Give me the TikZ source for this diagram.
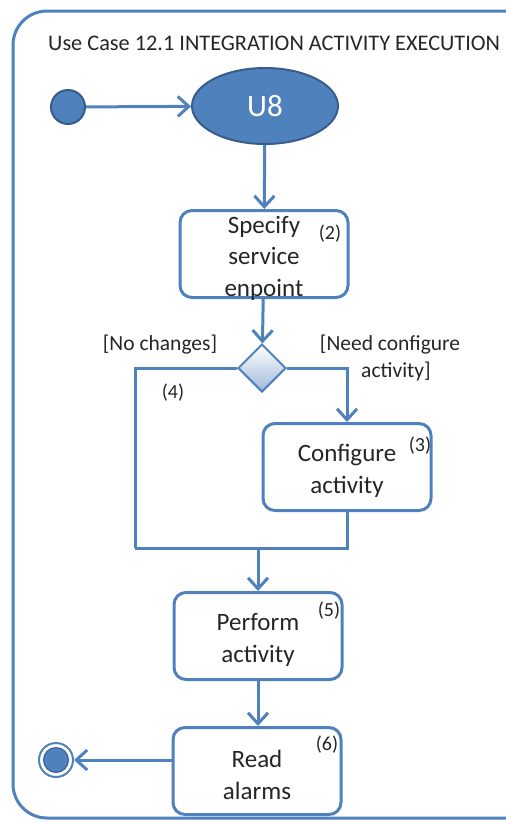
\documentclass[tikz,border=0pt]{standalone}
\usepackage{fontspec}
\setmainfont{Carlito}
\usetikzlibrary{arrows.meta,shapes.geometric,positioning}
\definecolor{lblue}{HTML}{4F81BD}
\definecolor{dblue}{HTML}{385D8A}
\definecolor{txt}{HTML}{262626}
\begin{document}
\begin{tikzpicture}[x=1pt,y=-1pt,
  conn/.style={draw=lblue,line width=3pt},
  arr/.style={conn,-{Straight Barb[length=11pt,width=20pt,line width=3pt]}},
  actbox/.style={draw=lblue,line width=3pt,rounded corners=12pt,fill=white,minimum width=168pt,minimum height=87pt,inner sep=0pt},
  boxtext/.style={align=center,font=\fontsize{25}{31.5}\selectfont,text=txt,inner sep=0pt,yshift=-4pt},
  num/.style={font=\fontsize{20}{22}\selectfont,text=txt,inner sep=0pt},
  guard/.style={font=\fontsize{21.5}{27}\selectfont,text=txt,inner sep=0pt,align=center}]
\useasboundingbox (0,0) rectangle (506,823);
\begin{scope}
\clip (0,0) rectangle (506,823);
\draw[draw=lblue,line width=3pt,rounded corners=34pt] (13,11) rectangle (540,818);
\end{scope}
\node[text=txt,font=\fontsize{22.3}{24}\selectfont,anchor=west,inner sep=0pt] (title) at (48,43) {Use Case 12.1 INTEGRATION ACTIVITY EXECUTION};
\node[circle,fill=lblue,draw=dblue,line width=2pt,minimum size=34pt,inner sep=0pt] (start) at (68,107) {};
\node[ellipse,fill=lblue,draw=dblue,line width=2pt,minimum width=146pt,minimum height=76pt,inner sep=0pt,text=white,font=\fontsize{31}{31}\selectfont] (u8) at (265,106) {U8};
\node[actbox] (spec) at (264,254) {};
\node[boxtext] (spect) at (spec.center) {Specify\\service\\enpoint};
\node[num] (n2) at (330,234) {(2)};
\node[diamond,draw=lblue,line width=2pt,top color=white,bottom color=lblue!55,minimum width=48pt,minimum height=48pt,inner sep=0pt] (dec) at (262,368) {};
\node[guard] (gno) at (160,345) {[No changes]};
\node[guard] (gneed) at (390,358) {[Need configure\\\hspace*{12pt}activity]};
\node[num] (n4) at (173,393) {(4)};
\node[actbox] (conf) at (347,467) {};
\node[boxtext] (conft) at (conf.center) {Configure\\activity};
\node[num] (n3) at (420,446) {(3)};
\node[actbox] (perf) at (258,636) {};
\node[boxtext] (perft) at (perf.center) {Perform\\activity};
\node[num] (n5) at (329,611) {(5)};
\node[actbox] (read) at (257,771) {};
\node[boxtext] (readt) at (read.center) {Read\\alarms};
\node[num] (n6) at (327,745) {(6)};
\node[circle,fill=white,draw=lblue,line width=2pt,minimum size=34pt,inner sep=0pt] (fin) at (56,760) {};
\node[circle,fill=lblue,draw=dblue,line width=1pt,minimum size=25pt,inner sep=0pt] (fininner) at (fin.center) {};
\coordinate (ml) at (135,548);
\coordinate (mm) at (258,548);
\draw[arr] (start) -- (u8);
\draw[arr] (u8) -- (spec);
\draw[arr] (spec) -- (dec);
\draw[conn] (dec.west) -| (ml);
\draw[arr] (dec.east) -| (conf.north);
\draw[conn] (conf.south) |- (ml);
\draw[arr] (mm) -- (perf);
\draw[arr] (perf.south) -- (perf.south |- read.north);
\draw[arr] (read.west |- fin) -- (fin);
\end{tikzpicture}
\end{document}
